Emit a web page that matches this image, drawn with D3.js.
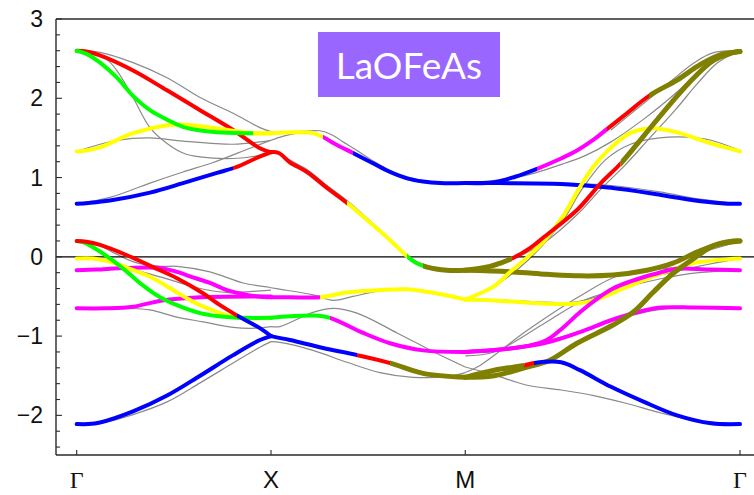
<!DOCTYPE html>
<html>
<head>
<meta charset="utf-8">
<script src="https://cdn.jsdelivr.net/npm/d3@7"></script>
<style>
  html, body { margin: 0; padding: 0; background: #fff; }
  svg { display: block; }
</style>
</head>
<body>
<svg id="chart" width="754" height="495"></svg>
<script>
// ---- k-path (Γ–X–M–Γ) and energy axis ----
const kTicks = [0, 1, 2, 3.414];
const kLabels = ["Γ", "X", "M", "Γ"];
const yTicks = [-2, -1, 0, 1, 2, 3];
const yDomain = [-2.5, 3];

// Orbital colours of the fat bands
const orbitalColors = { r: "#ff0000", g: "#00ff00", y: "#ffff00", m: "#ff00ff", b: "#0000ff", o: "#808000" };

// ---- Fat bands, Γ → X : pts = [k, E(eV)], stops = [k where colour starts, orbital] ----
const gxBands = [
  { pts: [[0,2.6],[0.05,2.59],[0.12,2.54],[0.29,2.35],[0.465,2.10],[0.635,1.85],[0.805,1.60],[0.943,1.37],[1,1.32]], stops: [[0,"r"]] },
  { pts: [[0,1.33],[0.05,1.34],[0.12,1.38],[0.29,1.56],[0.465,1.66],[0.547,1.67],[0.722,1.62],[0.908,1.56],[1,1.56]], stops: [[0,"y"]] },
  { pts: [[0,2.6],[0.05,2.56],[0.12,2.45],[0.207,2.26],[0.29,2.03],[0.377,1.85],[0.465,1.73],[0.547,1.64],[0.722,1.57],[0.908,1.56],[1,1.56]], stops: [[0,"g"],[0.91,"y"]] },
  { pts: [[0,0.67],[0.06,0.68],[0.171,0.71],[0.377,0.81],[0.547,0.93],[0.722,1.06],[0.82,1.13],[0.92,1.24],[1,1.32]], stops: [[0,"b"],[0.805,"r"]] },
  { pts: [[0,-0.17],[0.1,-0.16],[0.259,-0.14],[0.429,-0.14],[0.516,-0.19],[0.599,-0.26],[0.686,-0.33],[0.774,-0.42],[0.877,-0.48],[0.979,-0.51],[1,-0.51]], stops: [[0,"m"]] },
  { pts: [[0,-0.65],[0.15,-0.65],[0.29,-0.63],[0.44,-0.55],[0.635,-0.51],[0.943,-0.50],[1,-0.50]], stops: [[0,"m"]] },
  { pts: [[0,-0.02],[0.084,-0.02],[0.171,-0.06],[0.26,-0.14],[0.393,-0.27],[0.516,-0.45],[0.635,-0.61],[0.738,-0.71],[0.84,-0.77],[1,-0.77]], stops: [[0,"y"]] },
  { pts: [[0,0.2],[0.04,0.18],[0.084,0.12],[0.171,-0.02],[0.259,-0.19],[0.341,-0.36],[0.429,-0.51],[0.516,-0.61],[0.635,-0.71],[0.774,-0.76],[0.877,-0.77],[1,-0.77]], stops: [[0,"g"]] },
  { pts: [[0,0.2],[0.05,0.19],[0.12,0.15],[0.259,0.02],[0.393,-0.13],[0.516,-0.27],[0.65,-0.46],[0.738,-0.61],[0.825,-0.74],[0.943,-0.90],[1,-1.0]], stops: [[0,"r"],[0.825,"b"]] },
  { pts: [[0,-2.11],[0.06,-2.11],[0.12,-2.09],[0.29,-1.95],[0.465,-1.75],[0.635,-1.50],[0.805,-1.24],[0.943,-1.05],[1,-1.0]], stops: [[0,"b"]] }
];

// ---- Fat bands, X → M (doubly degenerate) ----
const xmBands = [
  { pts: [[1,1.56],[1.134,1.57],[1.216,1.56],[1.268,1.51],[1.34,1.41],[1.422,1.31],[1.525,1.18],[1.613,1.07],[1.70,0.99],[1.783,0.95],[1.87,0.93],[2,0.93]], stops: [[1,"y"],[1.268,"m"],[1.422,"b"]] },
  { pts: [[1,1.32],[1.04,1.31],[1.098,1.19],[1.185,1.07],[1.288,0.87],[1.391,0.68],[1.525,0.40],[1.613,0.21],[1.69,0.03],[1.741,-0.07],[1.803,-0.13],[1.906,-0.17],[2,-0.17]], stops: [[1,"r"],[1.391,"y"],[1.70,"g"],[1.783,"o"]] },
  { pts: [[1,-0.51],[1.098,-0.51],[1.252,-0.51],[1.391,-0.45],[1.561,-0.42],[1.70,-0.41],[1.87,-0.47],[2,-0.54]], stops: [[1,"m"],[1.252,"y"]] },
  { pts: [[1,-0.77],[1.098,-0.75],[1.216,-0.74],[1.304,-0.77],[1.474,-0.96],[1.613,-1.09],[1.783,-1.18],[2,-1.20]], stops: [[1,"g"],[1.304,"m"]] },
  { pts: [[1,-1.0],[1.098,-1.05],[1.268,-1.15],[1.443,-1.24],[1.613,-1.34],[1.783,-1.47],[2,-1.52]], stops: [[1,"b"],[1.443,"r"],[1.613,"o"]] }
];

// ---- Fat bands, M → Γ ----
const mgBands = [
  { pts: [[2,0.93],[2.179,0.93],[2.493,0.92],[2.75,0.87],[3.007,0.78],[3.213,0.70],[3.35,0.67],[3.414,0.67]], stops: [[2,"b"]] },
  { pts: [[2,0.93],[2.149,0.94],[2.257,1.01],[2.369,1.11],[2.493,1.24],[2.575,1.34],[2.662,1.48],[2.729,1.61],[2.832,1.81],[2.946,2.03],[3.09,2.23],[3.213,2.43],[3.316,2.55],[3.414,2.59]], stops: [[2,"b"],[2.369,"m"],[2.729,"r"],[2.946,"o"]] },
  { pts: [[2,-0.54],[2.149,-0.55],[2.405,-0.59],[2.575,-0.59],[2.662,-0.55],[2.832,-0.38],[3.007,-0.21],[3.177,-0.08],[3.35,-0.03],[3.414,-0.02]], stops: [[2,"y"]] },
  { pts: [[2,-1.20],[2.18,-1.17],[2.42,-1.08],[2.59,-0.95],[2.75,-0.80],[2.884,-0.70],[3.007,-0.64],[3.18,-0.64],[3.414,-0.65]], stops: [[2,"m"]] },
  { pts: [[2,-1.20],[2.18,-1.17],[2.33,-1.12],[2.42,-1.05],[2.50,-0.90],[2.59,-0.70],[2.678,-0.53],[2.76,-0.40],[2.85,-0.31],[2.97,-0.22],[3.09,-0.15],[3.25,-0.16],[3.414,-0.17]], stops: [[2,"m"]] },
  { pts: [[2,-0.17],[2.246,-0.19],[2.421,-0.22],[2.59,-0.24],[2.76,-0.23],[2.935,-0.17],[3.069,-0.08],[3.193,0.06],[3.311,0.17],[3.38,0.20],[3.414,0.20]], stops: [[2,"o"]] },
  { pts: [[2,-1.52],[2.149,-1.50],[2.318,-1.39],[2.43,-1.31],[2.575,-1.09],[2.76,-0.86],[2.863,-0.70],[2.966,-0.45],[3.069,-0.21],[3.177,-0.02],[3.28,0.14],[3.414,0.20]], stops: [[2,"o"]] },
  { pts: [[2,-1.52],[2.149,-1.43],[2.303,-1.37],[2.354,-1.34],[2.493,-1.33],[2.59,-1.43],[2.75,-1.64],[2.92,-1.83],[3.09,-2.0],[3.265,-2.10],[3.414,-2.11]], stops: [[2,"o"],[2.303,"r"],[2.354,"b"]] },
  { pts: [[2,-0.54],[2.076,-0.46],[2.149,-0.37],[2.236,-0.18],[2.318,-0.01],[2.41,0.21],[2.50,0.50],[2.59,0.88],[2.66,1.14],[2.734,1.34],[2.847,1.56],[2.95,1.62],[3.09,1.57],[3.265,1.43],[3.414,1.33]], stops: [[2,"y"]] },
  { pts: [[2,-0.17],[2.127,-0.12],[2.179,-0.08],[2.241,-0.02],[2.333,0.11],[2.405,0.25],[2.575,0.59],[2.698,0.93],[2.801,1.18],[2.92,1.53],[3.059,1.94],[3.177,2.26],[3.28,2.48],[3.383,2.58],[3.414,2.59]], stops: [[2,"o"],[2.241,"r"],[2.80,"o"]] }
];

// ---- DFT bands (thin grey) ----
const grayGX = [
  [[0,2.6],[0.12,2.58],[0.29,2.45],[0.465,2.26],[0.635,2.01],[0.805,1.81],[0.943,1.63],[1,1.58]],
  [[0,2.6],[0.08,2.58],[0.15,2.5],[0.207,2.35],[0.29,2.01],[0.377,1.63],[0.465,1.43],[0.547,1.31],[0.635,1.26],[0.805,1.24],[0.943,1.28],[1,1.32]],
  [[0,1.33],[0.12,1.42],[0.207,1.47],[0.377,1.50],[0.547,1.46],[0.805,1.42],[0.943,1.45],[1,1.47]],
  [[0,0.67],[0.171,0.75],[0.377,0.93],[0.547,1.07],[0.702,1.19],[0.892,1.37],[1,1.47]],
  [[0,0.2],[0.1,0.16],[0.2,0.04],[0.3,-0.07],[0.43,-0.12],[0.516,-0.12],[0.686,-0.19],[0.856,-0.33],[0.979,-0.38],[1,-0.39]],
  [[0,0.0],[0.1,-0.01],[0.2,-0.07],[0.3,-0.16],[0.44,-0.26],[0.635,-0.40],[0.774,-0.45],[0.943,-0.43],[1,-0.42]],
  [[0,-0.65],[0.259,-0.65],[0.377,-0.67],[0.516,-0.76],[0.65,-0.82],[0.805,-0.89],[0.928,-0.90],[1,-0.88]],
  [[0,-2.11],[0.12,-2.10],[0.29,-1.99],[0.465,-1.83],[0.635,-1.59],[0.805,-1.34],[0.943,-1.14],[1,-1.07]]
];
const grayXM = [
  [[1,1.58],[1.134,1.58],[1.25,1.59],[1.304,1.55],[1.391,1.42],[1.443,1.34],[1.525,1.21],[1.613,1.09],[1.7,1.01],[1.783,0.96],[1.87,0.94],[2,0.93]],
  [[1,1.47],[1.06,1.52],[1.134,1.56],[1.2,1.58]],
  [[1,1.32],[1.05,1.30],[1.098,1.22],[1.185,1.10],[1.288,0.9],[1.391,0.71],[1.525,0.42],[1.613,0.22],[1.69,0.04],[1.75,-0.06],[1.83,-0.13],[1.91,-0.16],[2,-0.17]],
  [[1,-0.39],[1.05,-0.41],[1.216,-0.48],[1.32,-0.55],[1.422,-0.50],[1.561,-0.43],[1.731,-0.42],[1.87,-0.47],[2,-0.53]],
  [[1,-0.88],[1.046,-0.88],[1.216,-0.70],[1.32,-0.65],[1.443,-0.71],[1.649,-0.96],[1.854,-1.22],[2,-1.39]],
  [[1,-1.07],[1.046,-1.08],[1.216,-1.18],[1.391,-1.33],[1.561,-1.46],[1.731,-1.52],[1.906,-1.51],[2,-1.46]]
];
const grayMG = [
  [[2,-1.39],[2.149,-1.49],[2.318,-1.62],[2.493,-1.68],[2.662,-1.75],[2.832,-1.85],[3.007,-1.97],[3.177,-2.06],[3.414,-2.11]],
  [[2,-1.46],[2.076,-1.37],[2.318,-0.93],[2.58,-0.51],[2.806,-0.22],[3.09,-0.13],[3.25,-0.05],[3.414,0.0]],
  [[2,-1.20],[2.2,-1.16],[2.42,-1.06],[2.6,-0.93],[2.78,-0.79],[2.92,-0.70],[3.05,-0.65],[3.2,-0.64],[3.414,-0.65]],
  [[2,-1.25],[2.15,-1.20],[2.40,-0.85],[2.60,-0.56],[2.80,-0.40],[3.0,-0.28],[3.2,-0.20],[3.414,-0.17]],
  [[2,-0.53],[2.15,-0.54],[2.40,-0.57],[2.56,-0.57],[2.68,-0.50],[2.84,-0.33],[3.0,-0.23],[3.2,-0.12],[3.414,-0.02]],
  [[2,-0.17],[2.3,-0.20],[2.6,-0.23],[2.8,-0.21],[3.0,-0.13],[3.2,0.04],[3.414,0.2]],
  [[2,0.93],[2.5,0.93],[2.75,0.90],[3.0,0.82],[3.2,0.73],[3.414,0.67]],
  [[2,0.93],[2.3,1.02],[2.5,1.17],[2.62,1.28],[2.75,1.45],[2.92,1.74],[3.09,2.08],[3.2,2.33],[3.3,2.52],[3.414,2.6]],
  [[2,-0.17],[2.2,-0.07],[2.4,0.17],[2.575,0.53],[2.70,0.86],[2.82,1.15],[2.95,1.5],[3.08,1.85],[3.2,2.2],[3.3,2.45],[3.414,2.6]],
  [[2,-0.54],[2.15,-0.37],[2.32,-0.05],[2.5,0.45],[2.6,0.85],[2.72,1.22],[2.85,1.42],[3.0,1.50],[3.14,1.51],[3.265,1.47],[3.414,1.34]],
  [[2.75,1.6],[2.9,1.9],[3.05,2.2],[3.18,2.45],[3.27,2.57],[3.414,2.6]]
];

// ---- Layout ----
const W = 754, H = 495;
const frame = { left: 56, top: 19, bottom: 455, right: 760 };

const svg = d3.select("#chart");
const defs = svg.append("defs");

const x = d3.scaleLinear().domain([kTicks[0], kTicks[3]]).range([76.7, 740]);
const y = d3.scaleLinear().domain(yDomain).range([frame.bottom, frame.top]);

const line = d3.line().x(d => x(d[0])).y(d => y(d[1])).curve(d3.curveCatmullRom.alpha(0.5));

// Plot-area clip
defs.append("clipPath").attr("id", "plot-clip")
  .append("rect").attr("x", frame.left).attr("y", frame.top)
  .attr("width", frame.right - frame.left).attr("height", frame.bottom - frame.top);

const plot = svg.append("g").attr("clip-path", "url(#plot-clip)");

// Thin grey DFT bands
const grayG = plot.append("g");
[...grayGX, ...grayXM, ...grayMG].forEach(pts => {
  grayG.append("path").attr("d", line(pts))
    .attr("fill", "none").attr("stroke", "#8a8a8a").attr("stroke-width", 1.2);
});

// Fermi level
plot.append("line")
  .attr("x1", frame.left).attr("x2", frame.right)
  .attr("y1", y(0)).attr("y2", y(0))
  .attr("stroke", "#000").attr("stroke-width", 1.3);

// Fat bands: one smooth curve per band, split into orbital colours by x-clips
let clipCount = 0;
function drawFatBand(g, band) {
  const d = line(band.pts);
  band.stops.forEach((s, i) => {
    const x0 = i === 0 ? 0 : x(s[0]);
    const x1 = i === band.stops.length - 1 ? W : x(band.stops[i + 1][0]);
    const id = "seg-" + (clipCount++);
    defs.append("clipPath").attr("id", id)
      .append("rect").attr("x", x0).attr("y", 0).attr("width", Math.max(0, x1 - x0)).attr("height", H);
    g.append("g").attr("clip-path", `url(#${id})`)
      .append("path").attr("d", d)
      .attr("fill", "none")
      .attr("stroke", orbitalColors[s[1]])
      .attr("stroke-width", s[1] === "o" ? 5 : 4)
      .attr("stroke-linecap", "round")
      .attr("stroke-linejoin", "round");
  });
}
const fatG = plot.append("g");
[...gxBands, ...xmBands, ...mgBands].forEach(b => drawFatBand(fatG, b));

// ---- Frame and ticks ----
const axisG = svg.append("g").attr("stroke", "#2a2a2a").attr("stroke-width", 1.4).attr("fill", "none");
axisG.append("line").attr("x1", frame.left).attr("x2", frame.right).attr("y1", frame.top).attr("y2", frame.top);
axisG.append("line").attr("x1", frame.left).attr("x2", frame.right).attr("y1", frame.bottom).attr("y2", frame.bottom);
axisG.append("line").attr("x1", frame.left).attr("x2", frame.left).attr("y1", frame.top).attr("y2", frame.bottom);

// minor ticks every 0.2 eV, major ticks at integers (pointing inward)
d3.range(-2.4, 3.001, 0.2).forEach(v => {
  const major = Math.abs(v - Math.round(v)) < 1e-6;
  axisG.append("line")
    .attr("x1", frame.left).attr("x2", frame.left + (major ? 6 : 4))
    .attr("y1", y(v)).attr("y2", y(v))
    .attr("stroke-width", 1.1);
});
kTicks.forEach(k => {
  axisG.append("line")
    .attr("x1", x(k)).attr("x2", x(k))
    .attr("y1", frame.bottom).attr("y2", frame.bottom - 5)
    .attr("stroke-width", 1.1);
});

// Tick labels
const fmt = v => (v < 0 ? "\u2212" + Math.abs(v) : String(v));
svg.append("g").selectAll("text").data(yTicks).join("text")
  .attr("x", 43).attr("y", d => y(d))
  .attr("dy", "0.35em")
  .attr("text-anchor", "end")
  .attr("font-family", "Liberation Sans, Arial, sans-serif")
  .attr("font-size", 23)
  .attr("fill", "#111")
  .text(fmt);

svg.append("g").selectAll("text").data(kTicks).join("text")
  .attr("x", d => x(d)).attr("y", 488)
  .attr("text-anchor", "middle")
  .attr("font-family", (d, i) => kLabels[i] === "Γ" ? "Liberation Serif, Times New Roman, serif" : "Liberation Sans, Arial, sans-serif")
  .attr("font-size", 24)
  .attr("fill", "#111")
  .text((d, i) => kLabels[i]);

// Compound label
svg.append("rect").attr("x", 318).attr("y", 32).attr("width", 182).attr("height", 65).attr("fill", "#9966ff");
svg.append("text").attr("x", 409).attr("y", 79)
  .attr("text-anchor", "middle")
  .attr("font-family", "Lato, Open Sans, sans-serif")
  .attr("font-size", 37)
  .attr("fill", "#fff")
  .text("LaOFeAs");
</script>
</body>
</html>
